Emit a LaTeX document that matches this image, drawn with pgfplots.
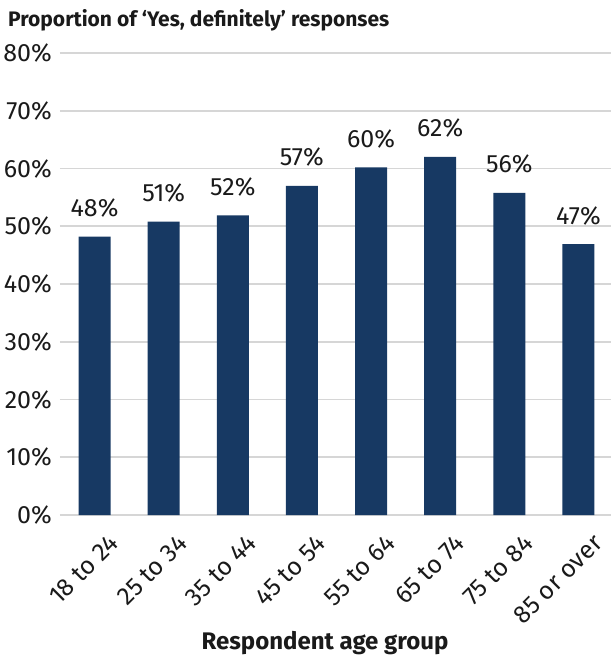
\documentclass[border=0pt]{standalone}
\usepackage{fontspec}
\setmainfont{Fira Sans}
\usepackage{pgfplots}
\pgfplotsset{compat=1.18}
\definecolor{barblue}{RGB}{23,57,99}
\definecolor{gridgrey}{RGB}{214,214,214}
\definecolor{txt}{RGB}{26,26,26}

\pgfplotstableread{
x val
0 48.2
1 50.8
2 51.9
3 57.0
4 60.2
5 62.0
6 55.8
7 46.9
}\agedata

\begin{document}
\begin{tikzpicture}[x=1pt,y=1pt]
\begin{axis}[
  at={(60pt,142pt)}, anchor=south west,
  scale only axis, width=553pt, height=462pt,
  xmin=-0.5, xmax=7.5,
  ymin=0, ymax=80,
  axis line style={draw=none},
  ymajorgrids, grid style={gridgrey, line width=1.6pt},
  major tick length=0pt,
  ytick={0,10,...,80},
  yticklabel={\pgfmathprintnumber{\tick}\%},
  /pgf/number format/assume math mode=true,
  yticklabel style={font=\fontsize{25}{28}\selectfont, text=txt, anchor=east, inner sep=4pt, xshift=-4pt},
  xtick=data,
  xticklabels={18 to 24,25 to 34,35 to 44,45 to 54,55 to 64,65 to 74,75 to 84,85 or over},
  xticklabel style={font=\fontsize{25}{28}\selectfont, text=txt, rotate=45, anchor=north east, inner sep=2pt, xshift=-1pt, yshift=-20pt},
  clip=false,
  nodes near coords={\pgfmathprintnumber[fixed,precision=0]{\pgfplotspointmeta}\%},
  nodes near coords style={font=\fontsize{25}{28}\selectfont, text=txt, anchor=base, yshift=20pt},
]
\addplot[ybar, bar width=32pt, fill=barblue, draw=none] table[x=x, y=val] {\agedata};
\end{axis}
\node[anchor=base west, inner sep=0pt, font=\bfseries\fontsize{21}{24}\selectfont, text=txt] at (8,630) {Proportion of ‘Yes, definitely’ responses};
\node[anchor=base, inner sep=0pt, font=\bfseries\fontsize{24}{28}\selectfont, text=txt] at (325,7) {Respondent age group};
\pgfresetboundingbox
\path (0,0) rectangle (611,657);
\end{tikzpicture}
\end{document}
